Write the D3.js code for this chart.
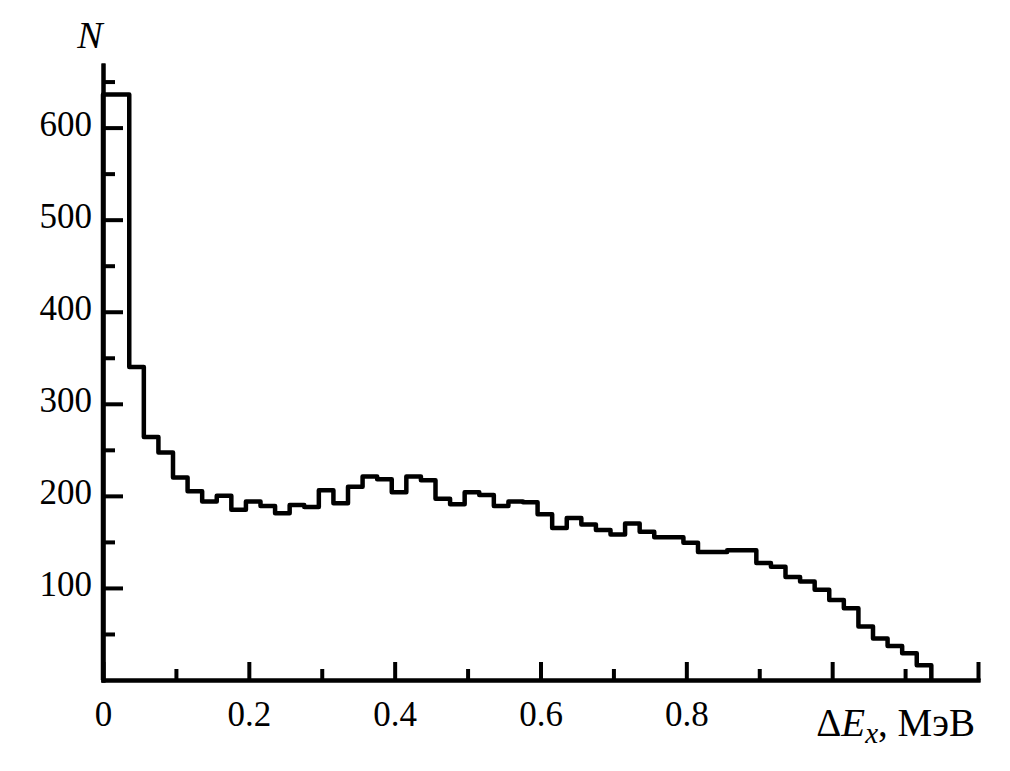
<!DOCTYPE html>
<html>
<head>
<meta charset="utf-8">
<script src="https://cdn.jsdelivr.net/npm/d3@7"></script>
<style>
  html, body { margin: 0; padding: 0; background: #fff; }
  svg { display: block; }
  text { font-family: "Liberation Serif", "Times New Roman", serif; fill: #000; }
</style>
</head>
<body>
<svg id="chart" width="1010" height="771"></svg>
<script>
// ---- data ----
// histogram counts: first bin 0..0.036, then bins of width 0.02
const firstBinEnd = 0.036;
const binWidth = 0.02;
const counts = [636, 340, 264, 247, 220, 205, 194, 200, 185, 194, 189, 181, 190, 188,
  206, 192, 210, 221, 218, 204, 221, 217, 197, 191, 204, 201, 189, 194, 193, 180,
  165, 176, 169, 163, 158, 170, 161, 155, 155, 149, 139, 139, 141, 141, 127, 123,
  112, 107, 98, 87, 78, 58, 45, 37, 29, 16];
const xMajorTicks = [0, 0.2, 0.4, 0.6, 0.8, 1.0, 1.2];
const xMinorTicks = [0.1, 0.3, 0.5, 0.7, 0.9, 1.1];
const xTickLabels = ["0", "0.2", "0.4", "0.6", "0.8", "", ""];
const yMajorTicks = [100, 200, 300, 400, 500, 600];
const yMinorTicks = [50, 150, 250, 350, 450, 550, 650];
const yTickLabels = ["100", "200", "300", "400", "500", "600"];

// ---- build bin edges ----
const edges = [0, firstBinEnd];
for (let i = 1; i < counts.length; i++) edges.push(firstBinEnd + i * binWidth);

const svg = d3.select("#chart");
const x = d3.scaleLinear().domain([0, 1.2]).range([103, 978]);
const y = d3.scaleLinear().domain([0, 668]).range([680, 65]);

// ---- histogram ----
let pts = [[edges[0], 0]];
counts.forEach((c, i) => {
  pts.push([edges[i], c]);
  pts.push([edges[i + 1], c]);
});
pts.push([edges[counts.length], 0]);
const line = d3.line().x(d => x(d[0])).y(d => y(d[1]));
svg.append("path")
  .attr("d", line(pts))
  .attr("fill", "none")
  .attr("stroke", "#000")
  .attr("stroke-width", 4.5)
  .attr("stroke-linejoin", "round");

// ---- axes ----
function styleAxis(g) {
  g.select(".domain").attr("stroke", "#000").attr("stroke-width", 4).attr("stroke-linecap", "square");
  g.selectAll(".tick line").attr("stroke", "#000").attr("stroke-width", 4);
  g.selectAll(".tick text").style("font-size", "35px").attr("fill", "#000")
    .attr("font-family", "'Liberation Serif', 'Times New Roman', serif");
}

const gxMinor = svg.append("g").attr("transform", `translate(0,${y(0)})`)
  .call(d3.axisBottom(x).tickValues(xMinorTicks).tickSize(-11).tickSizeOuter(0).tickFormat(""));
styleAxis(gxMinor);
const gx = svg.append("g").attr("transform", `translate(0,${y(0)})`)
  .call(d3.axisBottom(x).tickValues(xMajorTicks).tickSize(-18).tickSizeOuter(0)
    .tickPadding(21).tickFormat((d, i) => xTickLabels[i]));
styleAxis(gx);

const gyMinor = svg.append("g").attr("transform", `translate(${x(0)},0)`)
  .call(d3.axisLeft(y).tickValues(yMinorTicks).tickSize(-12).tickSizeOuter(0).tickFormat(""));
styleAxis(gyMinor);
const gy = svg.append("g").attr("transform", `translate(${x(0)},0)`)
  .call(d3.axisLeft(y).tickValues(yMajorTicks).tickSize(-20).tickSizeOuter(0)
    .tickPadding(11).tickFormat((d, i) => yTickLabels[i]));
styleAxis(gy);
gy.selectAll(".tick text").attr("dy", "0.22em");

// ---- axis titles ----
svg.append("text")
  .attr("x", 90).attr("y", 48)
  .attr("text-anchor", "middle")
  .style("font-size", "38px").style("font-style", "italic")
  .text("N");

const xt = svg.append("text")
  .attr("x", 975).attr("y", 736)
  .attr("text-anchor", "end")
  .style("font-size", "39px");
xt.append("tspan").text("Δ");
xt.append("tspan").style("font-style", "italic").text("E");
xt.append("tspan").style("font-style", "italic").style("font-size", "29px").attr("dy", 7).text("x");
xt.append("tspan").attr("dy", -7).text(", МэВ");
</script>
</body>
</html>
